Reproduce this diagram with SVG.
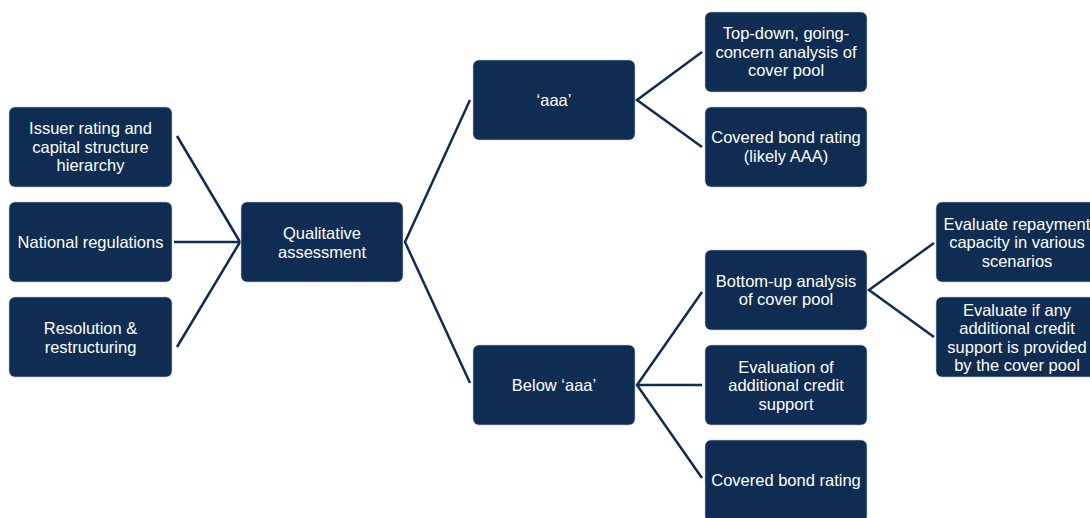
<svg xmlns="http://www.w3.org/2000/svg" width="1090" height="518" viewBox="0 0 1090 518">
<style>
.box{fill:#0f2d52;stroke:#b8c3d2;stroke-width:0.6}
.t{font-family:"Liberation Sans",Arial,sans-serif;font-size:16.5px;fill:#ffffff;text-anchor:middle}
.c{stroke:#0f2d52;stroke-width:2.5;fill:none;stroke-linecap:butt}
</style>
<rect width="1090" height="518" fill="#ffffff"/>
<g id="connectors">
<path class="c" d="M177,136 L240,242 M174,242 L240,242 M177,347 L240,242"/>
<path class="c" d="M470,100 L405,242 L470,383"/>
<path class="c" d="M702,52 L637,100 L702,147"/>
<path class="c" d="M702,292 L637,385 L702,478 M637,385 L702,385"/>
<path class="c" d="M934,243 L869,290 L934,337"/>
</g>
<g id="issuer"><rect class="box" x="9" y="107" width="163" height="80" rx="6"/><text class="t" x="90.5" y="134">Issuer rating and</text><text class="t" x="90.5" y="152.5">capital structure</text><text class="t" x="90.5" y="171">hierarchy</text></g>
<g id="national"><rect class="box" x="9" y="202" width="163" height="80" rx="6"/><text class="t" x="90.5" y="247.5">National regulations</text></g>
<g id="resolution"><rect class="box" x="9" y="297" width="163" height="80" rx="6"/><text class="t" x="90.5" y="333.5">Resolution &amp;</text><text class="t" x="90.5" y="352.5">restructuring</text></g>
<g id="qualitative"><rect class="box" x="241" y="202" width="162" height="80" rx="6"/><text class="t" x="322" y="238.5">Qualitative</text><text class="t" x="322" y="257.5">assessment</text></g>
<g id="aaa"><rect class="box" x="473" y="60" width="162" height="80" rx="6"/><text class="t" x="554" y="105.5">‘aaa’</text></g>
<g id="below"><rect class="box" x="473" y="345" width="162" height="80" rx="6"/><text class="t" x="554" y="390.5">Below ‘aaa’</text></g>
<g id="topdown"><rect class="box" x="705" y="12" width="162" height="80" rx="6"/><text class="t" x="786" y="39">Top-down, going-</text><text class="t" x="786" y="57.5">concern analysis of</text><text class="t" x="786" y="76">cover pool</text></g>
<g id="cbr-aaa"><rect class="box" x="705" y="107" width="162" height="80" rx="6"/><text class="t" x="786" y="143">Covered bond rating</text><text class="t" x="786" y="162">(likely AAA)</text></g>
<g id="bottomup"><rect class="box" x="705" y="250" width="162" height="80" rx="6"/><text class="t" x="786" y="286.5">Bottom-up analysis</text><text class="t" x="786" y="305">of cover pool</text></g>
<g id="evaluation"><rect class="box" x="705" y="345" width="162" height="80" rx="6"/><text class="t" x="786" y="372.5">Evaluation of</text><text class="t" x="786" y="391">additional credit</text><text class="t" x="786" y="409.5">support</text></g>
<g id="cbr"><rect class="box" x="705" y="440" width="162" height="82" rx="6"/><text class="t" x="786" y="485.5">Covered bond rating</text></g>
<g id="repayment"><rect class="box" x="936" y="202" width="162" height="80" rx="6"/><text class="t" x="1017" y="229.5">Evaluate repayment</text><text class="t" x="1017" y="248">capacity in various</text><text class="t" x="1017" y="266.5">scenarios</text></g>
<g id="additional"><rect class="box" x="936" y="297" width="162" height="80" rx="6"/><text class="t" x="1017" y="315.5">Evaluate if any</text><text class="t" x="1017" y="334">additional credit</text><text class="t" x="1017" y="352.5">support is provided</text><text class="t" x="1017" y="371">by the cover pool</text></g>
</svg>
